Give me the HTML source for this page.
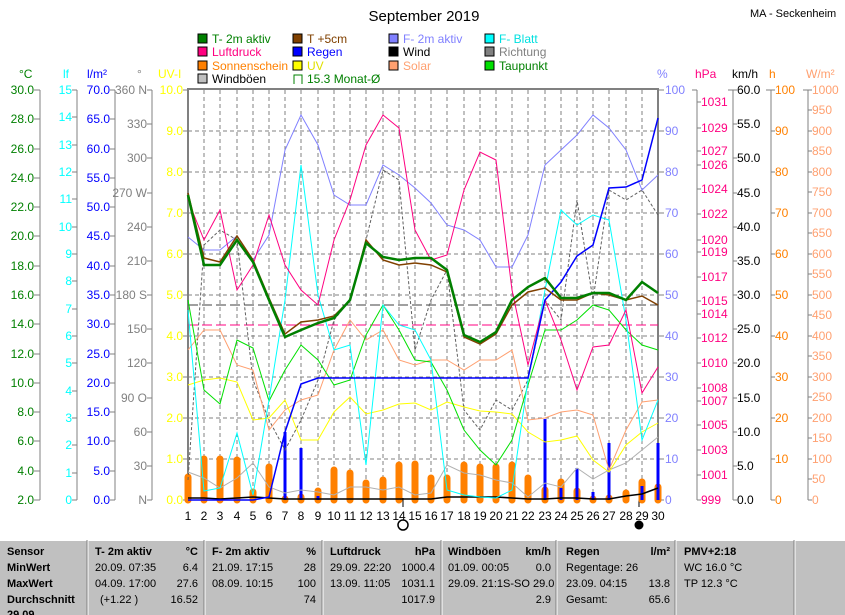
<!DOCTYPE html>
<html><head><meta charset="utf-8"><style>
body{margin:0;background:#fff;width:845px;height:615px;overflow:hidden;font-family:"Liberation Sans",sans-serif}
svg{position:absolute;left:0;top:0}
</style></head><body>
<svg width="845" height="615" xmlns="http://www.w3.org/2000/svg" font-family="Liberation Sans, sans-serif" font-size="12">
<rect width="845" height="615" fill="#fff"/>
<text x="424" y="21" font-size="15" text-anchor="middle">September 2019</text>
<text x="750" y="17" font-size="11">MA - Seckenheim</text>
<g font-size="12">
<rect x="198" y="34" width="9" height="9" fill="#008000" stroke="#000"/><text x="212" y="43" fill="#008000">T- 2m aktiv</text>
<rect x="293" y="34" width="9" height="9" fill="#804000" stroke="#000"/><text x="307" y="43" fill="#804000">T +5cm</text>
<rect x="389" y="34" width="9" height="9" fill="#8080ff" stroke="#000"/><text x="403" y="43" fill="#8080ff">F- 2m aktiv</text>
<rect x="485" y="34" width="9" height="9" fill="#00ffff" stroke="#000"/><text x="499" y="43" fill="#00e0e0">F- Blatt</text>
<rect x="198" y="47" width="9" height="9" fill="#ff0080" stroke="#000"/><text x="212" y="56" fill="#ff0080">Luftdruck</text>
<rect x="293" y="47" width="9" height="9" fill="#0000ff" stroke="#000"/><text x="307" y="56" fill="#0000ff">Regen</text>
<rect x="389" y="47" width="9" height="9" fill="#000" stroke="#000"/><text x="403" y="56">Wind</text>
<rect x="485" y="47" width="9" height="9" fill="#808080" stroke="#000"/><text x="499" y="56" fill="#808080">Richtung</text>
<rect x="198" y="61" width="9" height="9" fill="#ff8000" stroke="#000"/><text x="212" y="70" fill="#ff8000">Sonnenschein</text>
<rect x="293" y="61" width="9" height="9" fill="#ffff00" stroke="#000"/><text x="307" y="70" fill="#e0e000">UV</text>
<rect x="389" y="61" width="9" height="9" fill="#ffa070" stroke="#000"/><text x="403" y="70" fill="#ffa070">Solar</text>
<rect x="485" y="61" width="9" height="9" fill="#00e000" stroke="#000"/><text x="499" y="70" fill="#008000">Taupunkt</text>
<rect x="198" y="74" width="9" height="9" fill="#c0c0c0" stroke="#000"/><text x="212" y="83">Windböen</text>
<path d="M294 84V75H302V84" fill="none" stroke="#008000"/><text x="307" y="83" fill="#008000">15.3 Monat-Ø</text>
</g>
<g font-size="12">
<text x="19" y="78" fill="#008000">°C</text><text x="63" y="78" fill="#00ffff">lf</text><text x="87" y="78" fill="#0000ff">l/m²</text><text x="137" y="78" fill="#808080">°</text><text x="158" y="78" fill="#ffff00">UV-I</text>
<text x="657" y="78" fill="#8080ff">%</text><text x="695" y="78" fill="#ff0080">hPa</text><text x="732" y="78">km/h</text><text x="769" y="78" fill="#ff8000">h</text><text x="806" y="78" fill="#ffa070">W/m²</text>
</g>
<g stroke="#808080" stroke-dasharray="4,3" stroke-width="1">
<path d="M204 90V500M220 90V500M237 90V500M253 90V500M269 90V500M285 90V500M301 90V500M318 90V500M334 90V500M350 90V500M366 90V500M383 90V500M399 90V500M415 90V500M431 90V500M447 90V500M464 90V500M480 90V500M496 90V500M512 90V500M528 90V500M545 90V500M561 90V500M577 90V500M593 90V500M609 90V500M626 90V500M642 90V500"/>
<path d="M188 131H658M188 172H658M188 213H658M188 254H658M188 295H658M188 336H658M188 377H658M188 418H658M188 459H658"/>
</g>
<g stroke="#808080" stroke-width="2" fill="none">
<path d="M188 500V89H658V500"/>
</g>
<g stroke="#808080" stroke-width="1" fill="none">
<path d="M40 90V500M77 90V500M115 90V500M152 90V500M697 90V500M733 90V500M771 90V500M808 90V500"/>
<path d="M34 90H40M34 119H40M34 149H40M34 178H40M34 207H40M34 236H40M34 266H40M34 295H40M34 324H40M34 354H40M34 383H40M34 412H40M34 441H40M34 471H40M34 500H40"/>
<path d="M72 90H77M72 117H77M72 145H77M72 172H77M72 199H77M72 227H77M72 254H77M72 281H77M72 309H77M72 336H77M72 363H77M72 391H77M72 418H77M72 445H77M72 473H77M72 500H77"/>
<path d="M110 90H115M110 119H115M110 149H115M110 178H115M110 207H115M110 236H115M110 266H115M110 295H115M110 324H115M110 354H115M110 383H115M110 412H115M110 441H115M110 471H115M110 500H115"/>
<path d="M147 90H152M147 124H152M147 158H152M147 193H152M147 227H152M147 261H152M147 295H152M147 329H152M147 363H152M147 398H152M147 432H152M147 466H152M147 500H152"/>
<path d="M183 90H188M183 131H188M183 172H188M183 213H188M183 254H188M183 295H188M183 336H188M183 377H188M183 418H188M183 459H188M183 500H188"/>
<path d="M658 90H664M658 131H664M658 172H664M658 213H664M658 254H664M658 295H664M658 336H664M658 377H664M658 418H664M658 459H664M658 500H664"/>
<path d="M692 90H697M697 102H701M697 128H701M697 151H701M697 165H701M697 189H701M697 214H701M697 240H701M697 252H701M697 277H701M697 301H701M697 314H701M697 338H701M697 363H701M697 388H701M697 401H701M697 425H701M697 450H701M697 475H701M697 500H701"/>
<path d="M728 90H737M733 124H737M733 158H737M733 193H737M733 227H737M733 261H737M733 295H737M733 329H737M733 363H737M733 398H737M733 432H737M733 466H737M733 500H737"/>
<path d="M766 90H775M771 131H775M771 172H775M771 213H775M771 254H775M771 295H775M771 336H775M771 377H775M771 418H775M771 459H775M771 500H775"/>
<path d="M803 90H812M808 110H812M808 131H812M808 151H812M808 172H812M808 192H812M808 213H812M808 233H812M808 254H812M808 274H812M808 295H812M808 315H812M808 336H812M808 356H812M808 377H812M808 397H812M808 418H812M808 438H812M808 459H812M808 479H812M808 500H812"/>
</g>
<g fill="#008000" text-anchor="end">
<text x="34" y="94">30.0</text><text x="34" y="123">28.0</text><text x="34" y="153">26.0</text><text x="34" y="182">24.0</text><text x="34" y="211">22.0</text><text x="34" y="240">20.0</text><text x="34" y="270">18.0</text><text x="34" y="299">16.0</text><text x="34" y="328">14.0</text><text x="34" y="358">12.0</text><text x="34" y="387">10.0</text><text x="34" y="416">8.0</text><text x="34" y="445">6.0</text><text x="34" y="475">4.0</text><text x="34" y="504">2.0</text>
</g>
<g fill="#00ffff" text-anchor="end">
<text x="72" y="94">15</text><text x="72" y="121">14</text><text x="72" y="149">13</text><text x="72" y="176">12</text><text x="72" y="203">11</text><text x="72" y="231">10</text><text x="72" y="258">9</text><text x="72" y="285">8</text><text x="72" y="313">7</text><text x="72" y="340">6</text><text x="72" y="367">5</text><text x="72" y="395">4</text><text x="72" y="422">3</text><text x="72" y="449">2</text><text x="72" y="477">1</text><text x="72" y="504">0</text>
</g>
<g fill="#0000ff" text-anchor="end">
<text x="110" y="94">70.0</text><text x="110" y="123">65.0</text><text x="110" y="153">60.0</text><text x="110" y="182">55.0</text><text x="110" y="211">50.0</text><text x="110" y="240">45.0</text><text x="110" y="270">40.0</text><text x="110" y="299">35.0</text><text x="110" y="328">30.0</text><text x="110" y="358">25.0</text><text x="110" y="387">20.0</text><text x="110" y="416">15.0</text><text x="110" y="445">10.0</text><text x="110" y="475">5.0</text><text x="110" y="504">0.0</text>
</g>
<g fill="#808080" text-anchor="end">
<text x="147" y="94">360 N</text><text x="147" y="128">330</text><text x="147" y="162">300</text><text x="147" y="197">270 W</text><text x="147" y="231">240</text><text x="147" y="265">210</text><text x="147" y="299">180 S</text><text x="147" y="333">150</text><text x="147" y="367">120</text><text x="147" y="402">90 O</text><text x="147" y="436">60</text><text x="147" y="470">30</text><text x="147" y="504">N</text>
</g>
<g fill="#ffff00" text-anchor="end">
<text x="183" y="94">10.0</text><text x="183" y="135">9.0</text><text x="183" y="176">8.0</text><text x="183" y="217">7.0</text><text x="183" y="258">6.0</text><text x="183" y="299">5.0</text><text x="183" y="340">4.0</text><text x="183" y="381">3.0</text><text x="183" y="422">2.0</text><text x="183" y="463">1.0</text><text x="183" y="504">0.0</text>
</g>
<g fill="#8080ff">
<text x="665" y="94">100</text><text x="665" y="135">90</text><text x="665" y="176">80</text><text x="665" y="217">70</text><text x="665" y="258">60</text><text x="665" y="299">50</text><text x="665" y="340">40</text><text x="665" y="381">30</text><text x="665" y="422">20</text><text x="665" y="463">10</text><text x="665" y="504">0</text>
</g>
<g fill="#ff0080">
<text x="701" y="106">1031</text><text x="701" y="132">1029</text><text x="701" y="155">1027</text><text x="701" y="169">1026</text><text x="701" y="193">1024</text><text x="701" y="218">1022</text><text x="701" y="244">1020</text><text x="701" y="256">1019</text><text x="701" y="281">1017</text><text x="701" y="305">1015</text><text x="701" y="318">1014</text><text x="701" y="342">1012</text><text x="701" y="367">1010</text><text x="701" y="392">1008</text><text x="701" y="405">1007</text><text x="701" y="429">1005</text><text x="701" y="454">1003</text><text x="701" y="479">1001</text><text x="701" y="504">999</text>
</g>
<g fill="#000">
<text x="737" y="94">60.0</text><text x="737" y="128">55.0</text><text x="737" y="162">50.0</text><text x="737" y="197">45.0</text><text x="737" y="231">40.0</text><text x="737" y="265">35.0</text><text x="737" y="299">30.0</text><text x="737" y="333">25.0</text><text x="737" y="367">20.0</text><text x="737" y="402">15.0</text><text x="737" y="436">10.0</text><text x="737" y="470">5.0</text><text x="737" y="504">0.0</text>
</g>
<g fill="#ff8000">
<text x="775" y="94">100</text><text x="775" y="135">90</text><text x="775" y="176">80</text><text x="775" y="217">70</text><text x="775" y="258">60</text><text x="775" y="299">50</text><text x="775" y="340">40</text><text x="775" y="381">30</text><text x="775" y="422">20</text><text x="775" y="463">10</text><text x="775" y="504">0</text>
</g>
<g fill="#ffa070">
<text x="812" y="94">1000</text><text x="812" y="114">950</text><text x="812" y="135">900</text><text x="812" y="155">850</text><text x="812" y="176">800</text><text x="812" y="196">750</text><text x="812" y="217">700</text><text x="812" y="237">650</text><text x="812" y="258">600</text><text x="812" y="278">550</text><text x="812" y="299">500</text><text x="812" y="319">450</text><text x="812" y="340">400</text><text x="812" y="360">350</text><text x="812" y="381">300</text><text x="812" y="401">250</text><text x="812" y="422">200</text><text x="812" y="442">150</text><text x="812" y="463">100</text><text x="812" y="483">50</text><text x="812" y="504">0</text>
</g>
<g text-anchor="middle">
<text x="188" y="520">1</text><text x="204" y="520">2</text><text x="220" y="520">3</text><text x="237" y="520">4</text><text x="253" y="520">5</text><text x="269" y="520">6</text><text x="285" y="520">7</text><text x="301" y="520">8</text><text x="318" y="520">9</text><text x="334" y="520">10</text><text x="350" y="520">11</text><text x="366" y="520">12</text><text x="383" y="520">13</text><text x="399" y="520">14</text><text x="415" y="520">15</text><text x="431" y="520">16</text><text x="447" y="520">17</text><text x="464" y="520">18</text><text x="480" y="520">19</text><text x="496" y="520">20</text><text x="512" y="520">21</text><text x="528" y="520">22</text><text x="545" y="520">23</text><text x="561" y="520">24</text><text x="577" y="520">25</text><text x="593" y="520">26</text><text x="609" y="520">27</text><text x="626" y="520">28</text><text x="642" y="520">29</text><text x="658" y="520">30</text>
</g>
<path d="M403 498V507M639 498V507" stroke="#000"/>
<circle cx="403" cy="525" r="5" fill="none" stroke="#000" stroke-width="1.5"/>
<circle cx="639" cy="525" r="4.5" fill="#000"/>
<g stroke="#ff8000" stroke-width="7" stroke-linecap="round">
<path d="M188 477V500M204 459V500M220 459V500M237 460V500M253 492V500M269 467V500M285 499V500M301 497V500M318 491V500M334 470V500M350 473V500M366 483V500M383 480V500M399 465V500M415 464V500M431 478V500M447 478V500M464 465V500M480 467V500M496 467V500M512 465V500M528 478V500M545 490V500M561 482V500M577 491V500M593 499V500M609 498V500M626 493V500M642 482V500M658 487V500"/>
</g>
<g stroke="#0000ff" stroke-width="3">
<path d="M285 432V500M301 448V500M318 496V500M545 419V500M561 488V500M577 468V500M593 492V500M609 443V500M642 486V500M658 443V500"/>
</g>
<path d="M188 305H658" stroke="#404040" stroke-dasharray="10,4"/>
<path d="M188 325H658" stroke="#ff0080" stroke-dasharray="10,4"/>
<path d="M318 378H528" stroke="#000"/>
<g fill="none" stroke-width="1">
<polyline stroke="#606060" stroke-dasharray="3,2" points="188,480 204,245 220,230 237,240 253,380 269,420 285,450 301,420 318,380 334,320 350,300 366,240 383,170 399,180 415,350 431,300 447,270 464,410 480,430 496,400 512,410 528,380 545,300 561,320 577,200 593,300 609,190 626,200 642,190 658,215"/>
<polyline stroke="#b0b0b0" points="188,472 204,478 220,488 237,478 253,463 269,487 285,493 301,490 318,492 334,495 350,487 366,487 383,490 399,487 415,495 431,493 447,465 464,473 480,475 496,480 512,483 528,497 545,483 561,487 577,468 593,479 609,470 626,463 642,450 658,437"/>
<polyline stroke="#000" stroke-width="1.5" points="188,498 204,498 220,499 237,498 253,497 269,498 285,499 301,499 318,499 334,499 350,499 366,499 383,499 399,499 415,499 431,499 447,497 464,497 480,497 496,497 512,498 528,499 545,499 561,498 577,498 593,499 609,499 626,496 642,494 658,488"/>
<polyline stroke="#ffa070" points="188,350 204,330 220,330 237,365 253,370 269,430 285,410 301,400 318,395 334,350 350,320 366,340 383,330 399,360 415,365 431,360 447,360 464,370 480,360 496,360 512,350 528,420 545,418 561,412 577,410 593,415 609,470 626,430 642,402 658,400"/>
<polyline stroke="#ffff00" points="188,385 204,380 220,378 237,382 253,420 269,418 285,400 301,440 318,440 334,412 350,397 366,414 383,410 399,404 415,403 431,410 447,402 464,407 480,411 496,412 512,414 528,432 545,442 561,440 577,436 593,460 609,472 626,445 642,432 658,423"/>
<polyline stroke="#00e000" points="188,300 204,390 220,404 237,340 253,348 269,401 285,370 301,345 318,360 334,385 350,380 366,335 383,305 399,330 415,360 431,362 447,390 464,430 480,450 496,465 512,440 528,385 545,330 561,330 577,320 593,305 609,310 626,330 642,345 658,350"/>
<polyline stroke="#00ffff" points="188,310 204,491 220,488 237,433 253,495 269,400 285,300 301,165 318,295 334,350 350,345 366,465 383,305 399,325 415,330 431,360 447,490 464,495 480,497 496,498 512,490 528,380 545,290 561,210 577,225 593,215 609,220 626,320 642,440 658,400"/>
<polyline stroke="#8080ff" points="188,237 204,250 220,250 237,236 253,260 269,235 285,150 301,115 318,145 334,195 350,205 366,205 383,165 399,175 415,188 431,203 447,225 464,230 480,240 496,267 512,267 528,235 545,165 561,150 577,135 593,115 609,128 626,150 642,190 658,175"/>
<polyline stroke="#ff0080" points="188,200 204,240 220,210 237,290 253,265 269,215 285,265 301,290 318,305 334,240 350,200 366,145 383,115 399,128 415,230 431,260 447,255 464,190 480,152 496,160 512,290 528,365 545,300 561,340 577,390 593,347 609,345 626,310 642,393 658,367"/>
<polyline stroke="#0000ff" stroke-width="1.5" points="188,500 204,500 220,500 237,500 253,500 269,497 285,432 301,384 318,378 334,378 350,378 366,378 383,378 399,378 415,378 431,378 447,378 464,378 480,378 496,378 512,378 528,378 545,300 561,282 577,256 593,245 609,188 626,187 642,180 658,118"/>
<polyline stroke="#804000" stroke-width="1.5" points="188,193 204,258 220,262 237,236 253,260 269,298 285,334 301,322 318,320 334,316 350,300 366,240 383,260 399,265 415,263 431,265 447,272 464,337 480,344 496,334 512,305 528,292 545,288 561,300 577,300 593,293 609,295 626,300 642,296 658,305"/>
<polyline stroke="#008000" stroke-width="2.5" points="188,195 204,265 220,265 237,240 253,262 269,300 285,337 301,330 318,323 334,318 350,300 366,243 383,257 399,260 415,258 431,258 447,270 464,335 480,342 496,332 512,300 528,287 545,278 561,298 577,298 593,293 609,293 626,300 642,282 658,293"/>
</g>
</svg>
<div style="position:absolute;left:0;top:540px;width:845px;height:75px;background:#c0c0c0;font-family:'Liberation Sans',sans-serif;font-size:11px;color:#000;overflow:hidden">
<div style="position:absolute;left:0;top:0;width:845px;height:1px;background:#fff"></div>
<svg width="845" height="75" style="position:absolute;left:0;top:0">
<g stroke="#fff"><path d="M88 0V75M205 0V75M323 0V75M442 0V75M557 0V75M676 0V75M795 0V75"/></g>
<g stroke="#808080"><path d="M87 0V75M204 0V75M322 0V75M441 0V75M556 0V75M675 0V75M794 0V75"/></g>
<g font-family="Liberation Sans, sans-serif" font-size="11">
<g font-weight="bold"><text x="7" y="15">Sensor</text><text x="7" y="31">MinWert</text><text x="7" y="47">MaxWert</text><text x="7" y="63">Durchschnitt</text><text x="7" y="78">29.09.</text>
<text x="95" y="15">T- 2m aktiv</text><text x="198" y="15" text-anchor="end">°C</text>
<text x="212" y="15">F- 2m aktiv</text><text x="316" y="15" text-anchor="end">%</text>
<text x="330" y="15">Luftdruck</text><text x="435" y="15" text-anchor="end">hPa</text>
<text x="448" y="15">Windböen</text><text x="551" y="15" text-anchor="end">km/h</text>
<text x="566" y="15">Regen</text><text x="670" y="15" text-anchor="end">l/m²</text>
<text x="684" y="15">PMV+2:18</text></g>
<text x="95" y="31">20.09.  07:35</text><text x="198" y="31" text-anchor="end">6.4</text>
<text x="95" y="47">04.09.  17:00</text><text x="198" y="47" text-anchor="end">27.6</text>
<text x="100" y="63">(+1.22 )</text><text x="198" y="63" text-anchor="end">16.52</text>
<text x="212" y="31">21.09.  17:15</text><text x="316" y="31" text-anchor="end">28</text>
<text x="212" y="47">08.09.  10:15</text><text x="316" y="47" text-anchor="end">100</text>
<text x="316" y="63" text-anchor="end">74</text>
<text x="330" y="31">29.09.  22:20</text><text x="435" y="31" text-anchor="end">1000.4</text>
<text x="330" y="47">13.09.  11:05</text><text x="435" y="47" text-anchor="end">1031.1</text>
<text x="435" y="63" text-anchor="end">1017.9</text>
<text x="448" y="31">01.09.  00:05</text><text x="551" y="31" text-anchor="end">0.0</text>
<text x="448" y="47">29.09.  21:1S-SO 29.0</text>
<text x="551" y="63" text-anchor="end">2.9</text>
<text x="566" y="31">Regentage: 26</text>
<text x="566" y="47">23.09.  04:15</text><text x="670" y="47" text-anchor="end">13.8</text>
<text x="566" y="63">Gesamt:</text><text x="670" y="63" text-anchor="end">65.6</text>
<text x="684" y="31">WC 16.0 °C</text><text x="684" y="47">TP 12.3 °C</text>
</g>
</svg>
</div>
</body></html>
